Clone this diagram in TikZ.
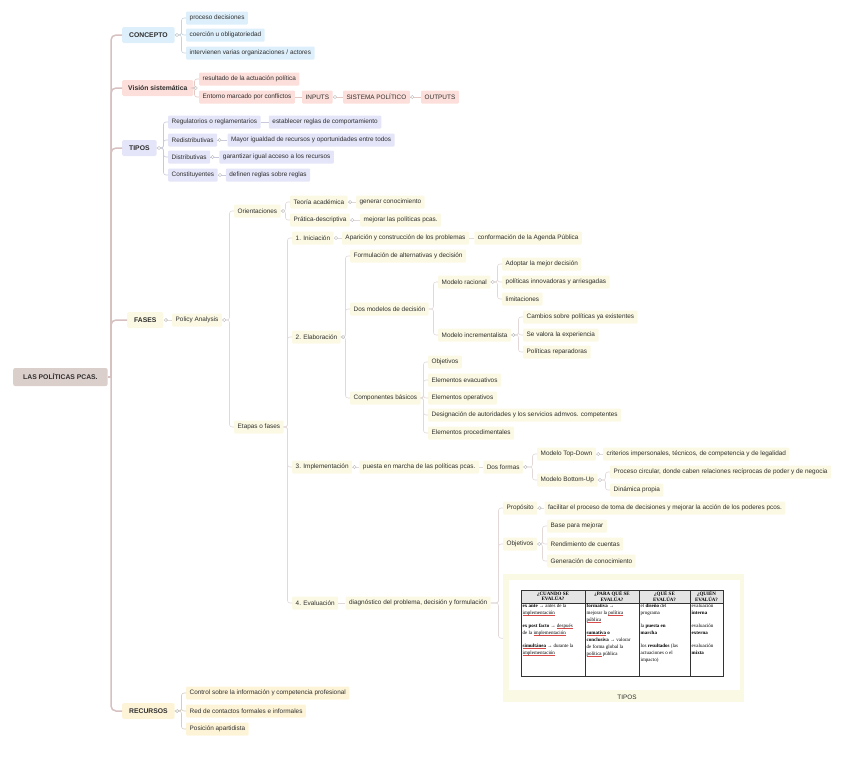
\documentclass[tikz,border=0pt]{standalone}
\usepackage{fontspec}
\setmainfont{Liberation Sans}
\newfontfamily\tabfont{Liberation Serif}
\usetikzlibrary{calc,positioning}
\definecolor{txt}{HTML}{2E2E2E}
\definecolor{cblue}{HTML}{DDEFFB}
\definecolor{cpink}{HTML}{FCDFDA}
\definecolor{clav}{HTML}{E4E5F8}
\definecolor{ccream}{HTML}{FBF9E3}
\definecolor{cyel}{HTML}{FDF4D8}
\definecolor{croot}{HTML}{DBCFCB}
\definecolor{ctrunk}{HTML}{D6C0C0}
\definecolor{lblue}{HTML}{C5D3DE}
\definecolor{lpink}{HTML}{E3C8C4}
\definecolor{llav}{HTML}{C9C9DD}
\definecolor{lfas}{HTML}{E2D8D8}
\definecolor{lyel}{HTML}{D5CDBE}
\definecolor{imgbg}{HTML}{FAFAE4}
\definecolor{thead}{HTML}{E4E4E4}
\definecolor{spell}{HTML}{D84A4A}
\newcommand\lnkb[3]{\draw[lnk=#1] (#2.east) -- ($(#2.east -| #3.west)+(-4.5,0)$) |- (#3.west);}
\newcommand\chn[3]{\draw[lnk=#1] (#2.east) -- (#3.west);}
\newcommand\dotat[1]{\node[dotc] at ($(#1.east)+(2.2,0)$) {};}
\newcommand\redul[1]{\setbox0\hbox{#1}\rlap{\color{spell}\rule[-1pt]{\wd0}{0.4pt}}\box0\relax}
\begin{document}
\begin{tikzpicture}[x=1pt,y=-1pt,
  every node/.style={text=txt},
  font=\fontsize{6.4}{7.6}\selectfont,
  nd/.style={anchor=west, inner xsep=3.5pt, inner ysep=0pt, minimum height=13pt, rounded corners=1pt},
  lone/.style={anchor=west, font=\fontsize{6.8}{8}\selectfont\bfseries, inner xsep=7pt, inner ysep=0pt, minimum height=16pt, rounded corners=1.5pt},
  lnk/.style={draw=#1, line width=.6pt, rounded corners=2.5pt},
  trunk/.style={draw=ctrunk, line width=1.5pt, rounded corners=5pt},
  dotc/.style={circle, draw=gray!55, fill=white, line width=.4pt, inner sep=0pt, minimum size=3.2pt},
  bn/.style={nd, fill=cblue}, pn/.style={nd, fill=cpink}, vn/.style={nd, fill=clav},
  fn/.style={nd, fill=ccream}, yn/.style={nd, fill=cyel},
  hd/.style={font=\tabfont\bfseries\fontsize{5}{5.6}\selectfont, align=center, inner sep=0pt, text=black},
  bd/.style={anchor=north west, font=\tabfont\fontsize{5}{7}\selectfont, align=left, inner sep=0pt, text=black},
]
\path[use as bounding box] (0,0) rectangle (848,766);
% root
\node[anchor=west, fill=croot, rounded corners=2pt, font=\fontsize{6.8}{8}\selectfont\bfseries, inner xsep=10pt, inner ysep=0pt, minimum height=18pt] (root) at (13,377) {LAS POLÍTICAS PCAS.};
% level 1
\node[lone, fill=cblue] (con) at (122,35) {CONCEPTO};
\node[lone, fill=cpink, inner xsep=6pt] (vis) at (122,88) {Visión sistemática};
\node[lone, fill=clav] (tip) at (122,148) {TIPOS};
\node[lone, fill=ccream] (fas) at (127,320) {FASES};
\node[lone, fill=cyel] (rec) at (122,711) {RECURSOS};
% concepto
\node[bn] (c1) at (186,18) {proceso decisiones};
\node[bn] (c2) at (186,35) {coerción u obligatoriedad};
\node[bn] (c3) at (186,53) {intervienen varias organizaciones / actores};
% vision
\node[pn] (v1) at (199,79) {resultado de la actuación política};
\node[pn] (v2) at (199,97) {Entorno marcado por conflictos};
\node[pn, right=7pt of v2] (v3) {INPUTS};
\node[pn, right=10pt of v3] (v4) {SISTEMA POLÍTICO};
\node[pn, right=11pt of v4] (v5) {OUTPUTS};
% tipos
\node[vn] (t1) at (168,122) {Regulatorios o reglamentarios};
\node[vn, right=8pt of t1] (t1b) {establecer reglas de comportamiento};
\node[vn] (t2) at (168,140) {Redistributivas};
\node[vn, right=10pt of t2] (t2b) {Mayor igualdad de recursos y oportunidades entre todos};
\node[vn] (t3) at (168,157) {Distributivas};
\node[vn, right=9pt of t3] (t3b) {garantizar igual acceso a los recursos};
\node[vn] (t4) at (168,175) {Constituyentes};
\node[vn, right=8pt of t4] (t4b) {definen reglas sobre reglas};
% fases
\node[fn] (pa) at (172,320) {Policy Analysis};
\node[fn] (or) at (234,211) {Orientaciones};
\node[fn] (ta) at (290,202) {Teoría académica};
\node[fn, right=8pt of ta] (tab) {generar conocimiento};
\node[fn] (pd) at (290,220) {Prática-descriptiva};
\node[fn, right=10pt of pd] (pdb) {mejorar las políticas pcas.};
\node[fn] (et) at (234,427) {Etapas o fases};
\node[fn] (e1) at (292,238) {1. Iniciación};
\node[fn, right=8pt of e1] (e1b) {Aparición y construcción de los problemas};
\node[fn, right=5pt of e1b] (e1c) {conformación de la Agenda Pública};
\node[fn] (e2) at (292,337) {2. Elaboración};
\node[fn] (f1) at (350,256) {Formulación de alternativas y decisión};
\node[fn] (dm) at (350,309) {Dos modelos de decisión};
\node[fn] (mr) at (438,282) {Modelo racional};
\node[fn] (a1) at (502,264) {Adoptar la mejor decisión};
\node[fn] (a2) at (502,282) {políticas innovadoras y arriesgadas};
\node[fn] (a3) at (502,299) {limitaciones};
\node[fn] (mi) at (438,335) {Modelo incrementalista};
\node[fn] (b1) at (523,317) {Cambios sobre políticas ya existentes};
\node[fn] (b2) at (523,335) {Se valora la experiencia};
\node[fn] (b3) at (523,352) {Políticas reparadoras};
\node[fn] (cb) at (350,398) {Componentes básicos};
\node[fn] (k1) at (428,362) {Objetivos};
\node[fn] (k2) at (428,380) {Elementos evacuativos};
\node[fn] (k3) at (428,398) {Elementos operativos};
\node[fn] (k4) at (428,415) {Designación de autoridades y los servicios admvos. competentes};
\node[fn] (k5) at (428,433) {Elementos procedimentales};
\node[fn] (e3) at (292,467) {3. Implementación};
\node[fn, right=7pt of e3] (e3b) {puesta en marcha de las políticas pcas.};
\node[fn, right=4pt of e3b] (df) {Dos formas};
\node[fn] (td) at (537,454) {Modelo Top-Down};
\node[fn, right=7pt of td] (tdb) {criterios impersonales, técnicos, de competencia y de legalidad};
\node[fn] (bu) at (537,480) {Modelo Bottom-Up};
\node[fn] (bu1) at (610,472) {Proceso circular, donde caben relaciones recíprocas de poder y de negocia};
\node[fn] (bu2) at (610,490) {Dinámica propia};
\node[fn] (e4) at (292,603) {4. Evaluación};
\node[fn, right=7pt of e4] (e4b) {diagnóstico del problema, decisión y formulación};
\node[fn] (pr) at (503,508) {Propósito};
\node[fn, right=7pt of pr] (prb) {facilitar el proceso de toma de decisiones y mejorar la acción de los poderes pcos.};
\node[fn] (ob) at (503,544) {Objetivos};
\node[fn] (o1) at (547,526) {Base para mejorar};
\node[fn] (o2) at (547,544) {Rendimiento de cuentas};
\node[fn] (o3) at (547,561) {Generación de conocimiento};
% image with table
\node[anchor=north west, fill=imgbg, minimum width=241pt, minimum height=128pt, inner sep=0pt] (img) at (503,574) {};
\fill[white] (509,580) rectangle (740,690);
\fill[thead] (521,590) rectangle (723,603);
\draw[line width=.5pt, draw=black!80] (521,590) rectangle (723,676);
\draw[line width=.5pt, draw=black!80] (521,603) -- (723,603) (585,590) -- (585,676) (639,590) -- (639,676) (690,590) -- (690,676);
\node[hd] at (553,596.5) {¿CUANDO SE\\EVALÚA?};
\node[hd] at (612,596.5) {¿PARA QUÉ SE\\EVALÚA?};
\node[hd] at (664.5,596.5) {¿QUÉ SE\\EVALÚA?};
\node[hd] at (706.5,596.5) {¿QUIÉN\\EVALÚA?};
\node[bd] at (522.5,604) {\textbf{ex ante} → antes de la\\\redul{implementación}\\[6pt]\textbf{ex post facto} → \redul{después}\\de la \redul{implementación}\\[6pt]\redul{\textbf{simultánea}} → durante la\\\redul{implementación}};
\node[bd] at (586.5,604) {\textbf{formativa} →\\mejorar la \redul{política}\\\redul{pública}\\[6pt]\redul{\textbf{sumativa}} \textbf{o}\\\textbf{conclusiva} → valorar\\de forma global la\\\redul{política} pública};
\node[bd] at (640.5,604) {el \textbf{diseño} del\\programa\\[6pt]la \textbf{puesta en}\\\textbf{marcha}\\[6pt]los \textbf{resultados} (las\\actuaciones o el\\impacto)};
\node[bd] at (691.5,604) {evaluación\\\textbf{interna}\\[6pt]evaluación\\\textbf{externa}\\[6pt]evaluación\\\textbf{mixta}};
\node (cap) at (627,697) {TIPOS};
% recursos
\node[yn] (r1) at (186,693) {Control sobre la información y competencia profesional};
\node[yn] (r2) at (186,711) {Red de contactos formales e informales};
\node[yn] (r3) at (186,729) {Posición apartidista};
% trunk
\coordinate (tk) at (111,377);
\draw[draw=ctrunk, line width=1.5pt] (root.east) -- (tk);
\foreach \n in {con,vis,tip,fas,rec} {\draw[trunk] (tk) |- (\n.west);}
% links
\foreach \c in {c1,c2,c3} {\lnkb{lblue}{con}{\c}}
\foreach \c in {v1,v2} {\lnkb{lpink}{vis}{\c}}
\chn{lpink}{v2}{v3} \chn{lpink}{v3}{v4} \chn{lpink}{v4}{v5}
\foreach \c in {t1,t2,t3,t4} {\lnkb{llav}{tip}{\c}}
\chn{llav}{t1}{t1b} \chn{llav}{t2}{t2b} \chn{llav}{t3}{t3b} \chn{llav}{t4}{t4b}
\chn{lfas}{fas}{pa}
\foreach \c in {or,et} {\lnkb{lfas}{pa}{\c}}
\foreach \c in {ta,pd} {\lnkb{lfas}{or}{\c}}
\chn{lfas}{ta}{tab} \chn{lfas}{pd}{pdb}
\foreach \c in {e1,e2,e3,e4} {\lnkb{lfas}{et}{\c}}
\chn{lfas}{e1}{e1b} \chn{lfas}{e1b}{e1c}
\foreach \c in {f1,dm,cb} {\lnkb{lfas}{e2}{\c}}
\foreach \c in {mr,mi} {\lnkb{lfas}{dm}{\c}}
\foreach \c in {a1,a2,a3} {\lnkb{lfas}{mr}{\c}}
\foreach \c in {b1,b2,b3} {\lnkb{lfas}{mi}{\c}}
\foreach \c in {k1,k2,k3,k4,k5} {\lnkb{lfas}{cb}{\c}}
\chn{lfas}{e3}{e3b} \chn{lfas}{e3b}{df}
\foreach \c in {td,bu} {\lnkb{lfas}{df}{\c}}
\chn{lfas}{td}{tdb}
\foreach \c in {bu1,bu2} {\lnkb{lfas}{bu}{\c}}
\chn{lfas}{e4}{e4b}
\foreach \c in {pr,ob,img} {\lnkb{lfas}{e4b}{\c}}
\chn{lfas}{pr}{prb}
\foreach \c in {o1,o2,o3} {\lnkb{lfas}{ob}{\c}}
\foreach \c in {r1,r2,r3} {\lnkb{lyel}{rec}{\c}}
% collapse markers
\foreach \n in {con,vis,tip,t2,t3,t4,fas,pa,or,ta,pd,e1,e2,mr,mi,e3,df,td,bu,pr,ob,rec,v3,v4} {\dotat{\n}}
\end{tikzpicture}
\end{document}
